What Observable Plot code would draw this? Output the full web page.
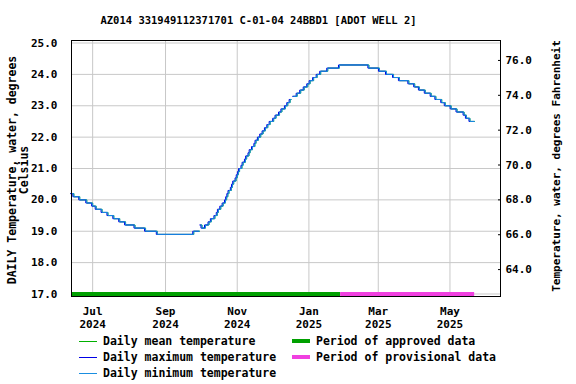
<!DOCTYPE html>
<html><head><meta charset="utf-8">
<script src="https://cdn.jsdelivr.net/npm/d3@7"></script>
<script src="https://cdn.jsdelivr.net/npm/@observablehq/plot@0.6"></script>
<style>
body{margin:0;background:#fff;}
#wrap{position:relative;width:576px;height:384px;overflow:hidden;font-family:"DejaVu Sans Mono",monospace;font-weight:bold;font-size:10.5px;color:#000;}
#title{position:absolute;left:0;width:517px;top:13px;line-height:14px;text-align:center;white-space:nowrap;}
#chart{position:absolute;left:0;top:30px;}
.ytitle{position:absolute;white-space:nowrap;line-height:12px;transform:translate(-50%,-50%) rotate(-90deg);text-align:center;}
.leg{position:absolute;white-space:nowrap;line-height:14px;font-size:11.5px;}
.sw{position:absolute;}
</style></head><body>
<div id="wrap">
  <div id="title"></div>
  <div id="chart"></div>
  <div class="ytitle" id="ylab" style="left:18px;top:170px;font-size:11.5px;"></div>
  <div class="ytitle" id="y2lab" style="left:557px;top:166px;font-size:11px;"></div>
  <div id="legend"></div>
</div>
<script>
// ---- data ----
const titleText = "AZ014 331949112371701 C-01-04 24BBD1 [ADOT WELL 2]";
const yLabelLines = ["DAILY Temperature, water, degrees", "Celsius"];
const y2Label = "Temperature, water, degrees Fahrenheit";

// step change points (date, value); null = gap in record
const obsDates = [
  "2024-06-13","2024-06-15","2024-06-20","2024-06-26","2024-07-01","2024-07-04","2024-07-09","2024-07-14",
  "2024-07-19","2024-07-24","2024-07-29","2024-08-06","2024-08-15","2024-08-25","2024-09-25","2024-09-30",
  "2024-09-30",
  "2024-10-01","2024-10-02","2024-10-05","2024-10-08","2024-10-10","2024-10-13","2024-10-15","2024-10-16",
  "2024-10-18","2024-10-20","2024-10-22","2024-10-23","2024-10-24","2024-10-25","2024-10-27","2024-10-28",
  "2024-10-29","2024-10-31","2024-11-01","2024-11-02","2024-11-03","2024-11-05","2024-11-06","2024-11-08",
  "2024-11-09","2024-11-11","2024-11-12","2024-11-14","2024-11-16","2024-11-17","2024-11-19","2024-11-21",
  "2024-11-23","2024-11-25","2024-11-27","2024-11-29","2024-12-02","2024-12-04","2024-12-07","2024-12-09",
  "2024-12-12","2024-12-14","2024-12-16","2024-12-17",
  "2024-12-17",
  "2024-12-19","2024-12-22","2024-12-25","2024-12-28","2024-12-31","2025-01-02","2025-01-05","2025-01-08",
  "2025-01-11","2025-01-17","2025-01-27","2025-02-21","2025-03-02","2025-03-08","2025-03-14","2025-03-19",
  "2025-03-27","2025-04-01","2025-04-05","2025-04-10","2025-04-15","2025-04-19","2025-04-24","2025-04-27",
  "2025-05-02","2025-05-07","2025-05-13","2025-05-15","2025-05-18","2025-05-22"
];
const obsTemps = [
  20.2,20.1,20.0,19.9,19.8,19.7,19.6,19.5,
  19.4,19.3,19.2,19.1,19.0,18.9,19.0,19.0,
  null,
  19.2,19.1,19.2,19.3,19.4,19.5,19.6,19.7,
  19.8,19.9,20.0,20.1,20.2,20.3,20.4,20.5,
  20.6,20.7,20.8,20.9,21.0,21.1,21.2,21.3,
  21.4,21.5,21.6,21.7,21.8,21.9,22.0,22.1,
  22.2,22.3,22.4,22.5,22.6,22.7,22.8,22.9,
  23.0,23.1,23.2,23.2,
  null,
  23.3,23.4,23.5,23.6,23.7,23.8,23.9,24.0,
  24.1,24.2,24.3,24.2,24.1,24.0,23.9,23.8,
  23.7,23.6,23.5,23.4,23.3,23.2,23.1,23.0,
  22.9,22.8,22.7,22.6,22.5,22.5
];

const periodNames = ["Period of approved data", "Period of provisional data"];
const periodStart = ["2024-06-13", "2025-01-28"];
const periodEnd   = ["2025-01-28", "2025-05-22"];

const seriesNames = ["Daily mean temperature", "Daily maximum temperature", "Daily minimum temperature"];

const xDomain = ["2024-06-13", "2025-06-13"];
const xTicks = ["2024-07-01","2024-09-01","2024-11-01","2025-01-01","2025-03-01","2025-05-01"];
const yTicksC = [17,18,19,20,21,22,23,24,25];
const yTicksF = [64,66,68,70,72,74,76];

// ---- styles ----
const colMean = "#00b000", colMax = "#0000e6", colMin = "#1a8ee0";
const colApproved = "#00a000", colProvisional = "#f040e0";
const FONT = '"DejaVu Sans Mono", monospace';

const d = s => new Date(s + "T00:00:00Z");
const obs = obsDates.map((s, i) => ({date: d(s), temp: obsTemps[i]}));
const periods = periodNames.map((n, i) => ({name: n, start: d(periodStart[i]), end: d(periodEnd[i])}));
const pColors = [colApproved, colProvisional];

document.getElementById("title").textContent = titleText;
document.getElementById("ylab").innerHTML = yLabelLines.join("<br>");
document.getElementById("y2lab").textContent = y2Label;

const fmtX = t => d3.utcFormat("%b")(t) + "\n" + d3.utcFormat("%Y")(t);

const chart = Plot.plot({
  width: 576, height: 302,
  marginTop: 10, marginBottom: 36, marginLeft: 71, marginRight: 76,
  style: {fontFamily: FONT, fontWeight: "bold", fontSize: "11px", background: "white", overflow: "visible", color: "black"},
  x: {type: "utc", domain: xDomain.map(d)},
  y: {domain: [16.92, 25.08]},
  color: {domain: periodNames, range: pColors},
  marks: [
    Plot.gridX(xTicks.map(d), {stroke: "#c8c8c8", strokeOpacity: 1}),
    Plot.gridY(yTicksC, {stroke: "#c8c8c8", strokeOpacity: 1}),
    Plot.ruleY(periods, {x1: "start", x2: "end", y: 17, stroke: "name", strokeWidth: 4}),
    Plot.line(obs, {x: "date", y: "temp", curve: "step-after", stroke: colMean, strokeWidth: 1}),
    Plot.line(obs, {x: "date", y: "temp", curve: "step-after", stroke: colMax, strokeWidth: 1, dx: -1}),
    Plot.line(obs, {x: "date", y: "temp", curve: "step-after", stroke: colMin, strokeWidth: 1}),
    Plot.frame({stroke: "black", strokeWidth: 1}),
    Plot.axisY(yTicksC, {anchor: "left", tickSize: 0, tickPadding: 14, tickFormat: v => v.toFixed(1), label: null}),
    Plot.axisY(yTicksF.map(f => (f - 32) / 1.8), {anchor: "right", tickSize: -3, tickPadding: 8,
      tickFormat: c => (c * 1.8 + 32).toFixed(1), label: null}),
    Plot.axisX(xTicks.map(d), {anchor: "bottom", tickSize: 0, tickPadding: 9, tickFormat: fmtX, lineHeight: 1.2, label: null})
  ]
});
document.getElementById("chart").appendChild(chart);

// ---- legend ----
const legend = document.getElementById("legend");
const rowsY = [341, 357, 373];
const lineCols = [colMean, colMax, colMin];
seriesNames.forEach((n, i) => {
  const sw = document.createElement("div");
  sw.className = "sw";
  sw.style.left = "79px";
  sw.style.top = rowsY[i] + "px";
  sw.style.width = "18px";
  sw.style.height = "1px";
  sw.style.background = lineCols[i];
  legend.appendChild(sw);
  const t = document.createElement("div");
  t.className = "leg";
  t.style.left = "103px";
  t.style.top = (rowsY[i] - 7) + "px";
  t.textContent = n;
  legend.appendChild(t);
});
periodNames.forEach((n, i) => {
  const sw = document.createElement("div");
  sw.className = "sw";
  sw.style.left = "292px";
  sw.style.top = (rowsY[i] - 2) + "px";
  sw.style.width = "18px";
  sw.style.height = "4px";
  sw.style.background = pColors[i];
  legend.appendChild(sw);
  const t = document.createElement("div");
  t.className = "leg";
  t.style.left = "316px";
  t.style.top = (rowsY[i] - 7) + "px";
  t.textContent = n;
  legend.appendChild(t);
});
</script>
</body></html>
